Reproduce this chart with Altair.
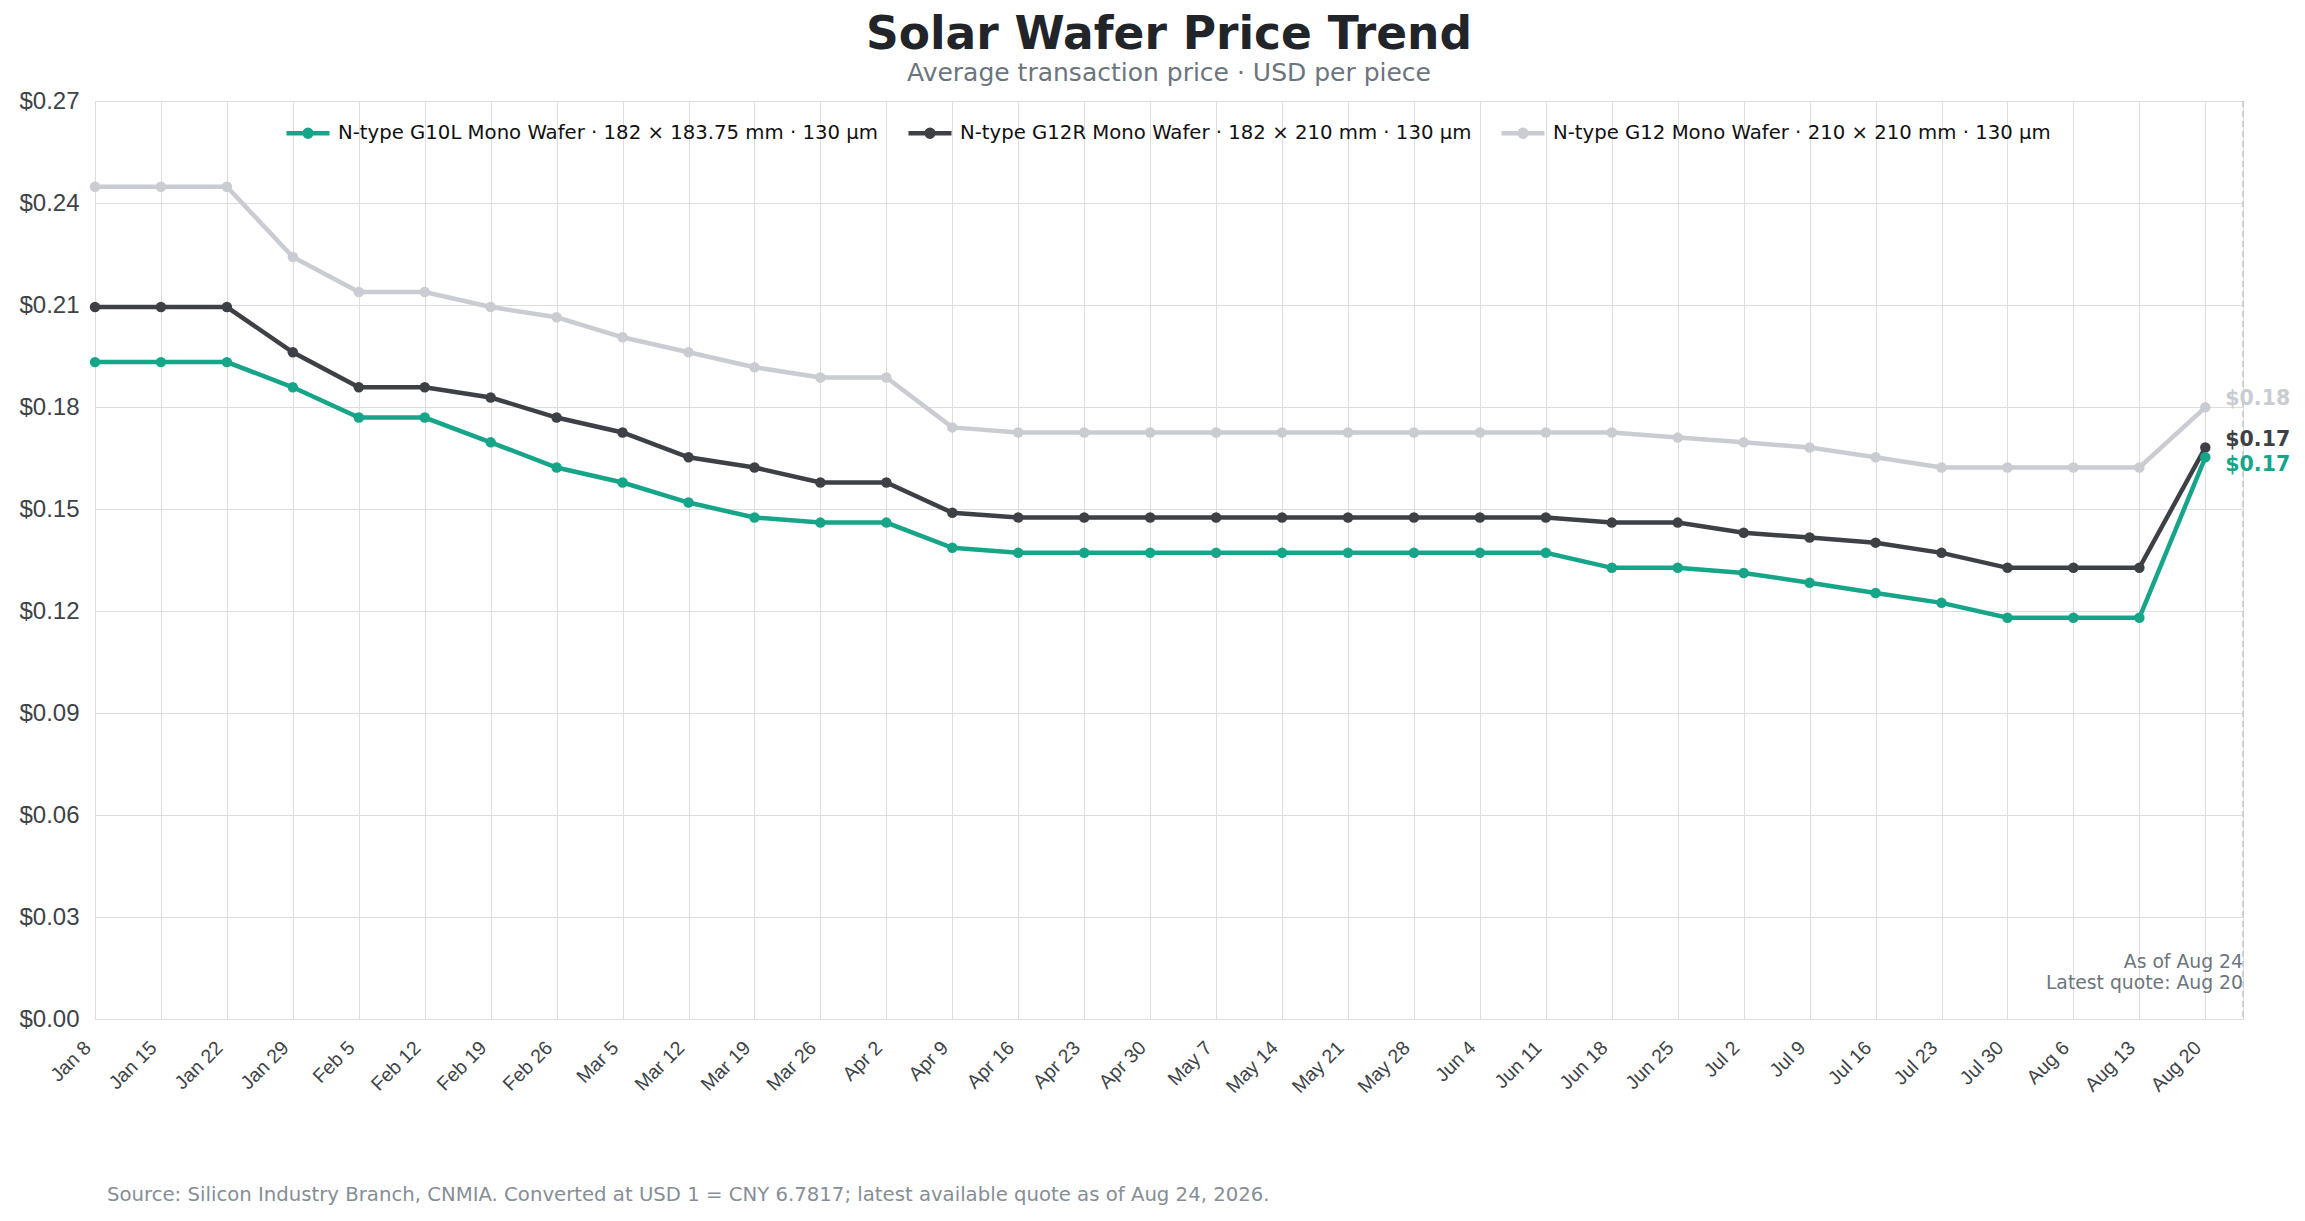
import altair as alt
import pandas as pd

# ---------------- data ----------------
dates = [
    "2026-01-08", "2026-01-15", "2026-01-22", "2026-01-29", "2026-02-05", "2026-02-12",
    "2026-02-19", "2026-02-26", "2026-03-05", "2026-03-12", "2026-03-19", "2026-03-26",
    "2026-04-02", "2026-04-09", "2026-04-16", "2026-04-23", "2026-04-30", "2026-05-07",
    "2026-05-14", "2026-05-21", "2026-05-28", "2026-06-04", "2026-06-11", "2026-06-18",
    "2026-06-25", "2026-07-02", "2026-07-09", "2026-07-16", "2026-07-23", "2026-07-30",
    "2026-08-06", "2026-08-13", "2026-08-20",
]
as_of_date = "2026-08-24"

series_names = [
    "N-type G10L Mono Wafer · 182 × 183.75 mm · 130 µm",
    "N-type G12R Mono Wafer · 182 × 210 mm · 130 µm",
    "N-type G12 Mono Wafer · 210 × 210 mm · 130 µm",
]
series_colors = ["#17a589", "#3d4146", "#c9ccd0"]

g10l_prices = [
    0.1932, 0.1932, 0.1932, 0.1858, 0.1769, 0.1769, 0.1696, 0.1622, 0.1578, 0.1519,
    0.1475, 0.1460, 0.1460, 0.1386, 0.1371, 0.1371, 0.1371, 0.1371, 0.1371, 0.1371,
    0.1371, 0.1371, 0.1371, 0.1327, 0.1327, 0.1312, 0.1283, 0.1253, 0.1224, 0.1180,
    0.1180, 0.1180, 0.1652,
]
g12r_prices = [
    0.2094, 0.2094, 0.2094, 0.1961, 0.1858, 0.1858, 0.1828, 0.1769, 0.1725, 0.1652,
    0.1622, 0.1578, 0.1578, 0.1489, 0.1475, 0.1475, 0.1475, 0.1475, 0.1475, 0.1475,
    0.1475, 0.1475, 0.1475, 0.1460, 0.1460, 0.1430, 0.1416, 0.1401, 0.1371, 0.1327,
    0.1327, 0.1327, 0.1681,
]
g12_prices = [
    0.2448, 0.2448, 0.2448, 0.2241, 0.2138, 0.2138, 0.2094, 0.2064, 0.2005, 0.1961,
    0.1917, 0.1887, 0.1887, 0.1740, 0.1725, 0.1725, 0.1725, 0.1725, 0.1725, 0.1725,
    0.1725, 0.1725, 0.1725, 0.1725, 0.1710, 0.1696, 0.1681, 0.1652, 0.1622, 0.1622,
    0.1622, 0.1622, 0.1799,
]

y_ticks = [0.00, 0.03, 0.06, 0.09, 0.12, 0.15, 0.18, 0.21, 0.24, 0.27]

title_text = "Solar Wafer Price Trend"
subtitle_text = "Average transaction price · USD per piece"
note_lines = ["As of Aug 24", "Latest quote: Aug 20"]
source_text = ("Source: Silicon Industry Branch, CNMIA. Converted at USD 1 = CNY 6.7817; "
               "latest available quote as of Aug 24, 2026.")

# ---------------- table ----------------
rows = []
# draw order: lightest series at the back
for name, vals in [(series_names[2], g12_prices), (series_names[1], g12r_prices),
                   (series_names[0], g10l_prices)]:
    for d, v in zip(dates, vals):
        rows.append({"date": d, "series": name, "price": v})
df = pd.DataFrame(rows)
last_df = df[df["date"] == dates[-1]]

FONT = "DejaVu Sans"
W, H = 2148, 918

legend_path = ("M-1,0H1M0.16,0A0.16,0.16,0,1,1,-0.16,0A0.16,0.16,0,1,1,0.16,0Z")

color_scale = alt.Scale(domain=series_names, range=series_colors)

x_enc = alt.X(
    "date:T",
    scale=alt.Scale(type="utc", domain=[dates[0], as_of_date]),
    axis=alt.Axis(
        values=dates, format="%b %-d", labelAngle=-45, title=None,
        labelFontSize=19.5, labelColor="#3d4348", labelPadding=19, labelOffset=-14,
        labelAlign="right", labelBaseline="top",
        grid=True, ticks=False, domain=False,
    ),
)
y_enc = alt.Y(
    "price:Q",
    scale=alt.Scale(domain=[0, 0.27], nice=False, zero=True),
    axis=alt.Axis(
        values=y_ticks, format="$.2f", title=None, labelFontSize=24,
        labelColor="#3d4348", labelPadding=16, grid=True, ticks=False, domain=False,
    ),
)

lines = alt.Chart(df).mark_line(
    strokeWidth=4.5, point=alt.OverlayMarkDef(filled=True, size=110)
).encode(
    x=x_enc,
    y=y_enc,
    color=alt.Color(
        "series:N", scale=color_scale,
        legend=alt.Legend(
            title=None, orient="none", direction="horizontal", columns=3,
            legendX=189, legendY=8, columnPadding=20, symbolType=legend_path,
            symbolSize=1849, symbolStrokeWidth=4.5, labelFontSize=19.7,
            labelFont=FONT, labelColor="#111111", labelOffset=6, labelLimit=0,
        ),
    ),
)

label_nudge = {series_names[0]: 8, series_names[1]: -7, series_names[2]: -8}
end_labels = []
for name in series_names:
    end_labels.append(
        alt.Chart(last_df[last_df["series"] == name]).mark_text(
            align="left", baseline="middle", dx=20, dy=label_nudge[name],
            fontSize=20.5, fontWeight="bold", font=FONT,
        ).encode(
            x="date:T", y="price:Q",
            text=alt.Text("price:Q", format="$.2f"),
            color=alt.Color("series:N", scale=color_scale, legend=None),
        )
    )

asof_df = pd.DataFrame({"date": [as_of_date]})
asof_rule = alt.Chart(asof_df).mark_rule(
    color="#c3c7cb", strokeWidth=1.5, strokeDash=[6, 4]
).encode(x="date:T")

notes = []
for i, line in enumerate(note_lines):
    notes.append(
        alt.Chart(asof_df).mark_text(
            align="right", baseline="middle", fontSize=18.8, font=FONT, color="#6c757d",
        ).encode(x="date:T", y=alt.value(861 + 20.5 * i), text=alt.value(line))
    )

source = alt.Chart(asof_df).mark_text(
    align="left", baseline="middle", fontSize=19.7, font=FONT, color="#868e96",
).encode(x=alt.value(12), y=alt.value(1094), text=alt.value(source_text))

chart = alt.layer(asof_rule, lines, *end_labels, *notes, source).properties(
    width=W, height=H,
    autosize=alt.AutoSizeParams(type="none"),
    padding={"left": 87, "top": 93, "right": 50, "bottom": 190},
    title=alt.TitleParams(
        text=title_text, subtitle=subtitle_text, anchor="middle",
        font=FONT, fontSize=45.5, fontWeight="bold", color="#212529",
        subtitleFont=FONT, subtitleFontSize=25, subtitleColor="#6c757d",
        subtitlePadding=3, offset=3,
    ),
).configure_view(
    fill="#f8fafc", stroke="#d9dde1", strokeWidth=2,
).configure_axis(
    gridColor="#e4e7ea", gridWidth=1.5, labelFont=FONT,
).configure(background="white")

chart.save("out.html", embed_options={"renderer": "svg", "actions": False})
